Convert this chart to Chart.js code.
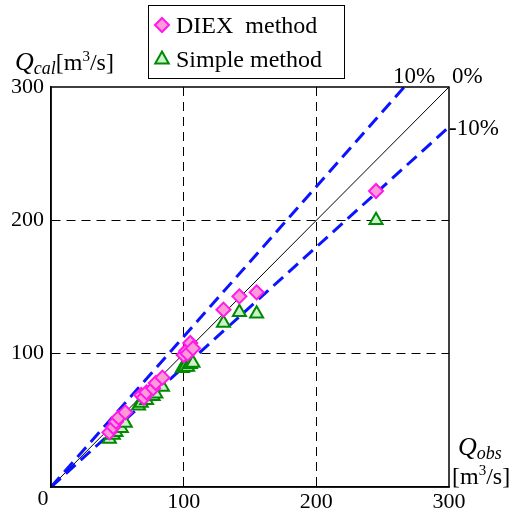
<!DOCTYPE html>
<html>
<head>
<meta charset="utf-8">
<script src="https://cdn.jsdelivr.net/npm/chart.js@4.4.1/dist/chart.umd.min.js"></script>
<style>
  html, body { margin: 0; padding: 0; background: #fff; }
  #wrap { width: 513px; height: 510px; }
</style>
</head>
<body>
<div id="wrap"><canvas id="chart" width="513" height="510"></canvas></div>
<script>
const diexObs = [44, 47, 49, 51, 56, 68, 70, 72, 77, 79, 84, 100, 102, 103, 105, 107, 130, 142, 155, 245];
const diexCal = [41, 45, 49, 52, 56, 69, 67, 71, 74, 78, 82, 99, 102, 100, 108, 104, 133, 143, 146, 222];
const simpleObs = [44, 47, 49, 53, 56, 66, 68, 72, 77, 79, 84, 99, 101, 103, 105, 107, 130, 142, 155, 245];
const simpleCal = [36, 39, 41, 44, 48, 61, 63, 65, 68, 70, 75, 89, 90, 90, 92, 93, 123, 131, 130, 200];

// reference lines (0%, +10%, -10%)
const refX = [0, 300];
const ref0Y = [0, 300];
const refPlusY = [0, 338];
const refMinusY = [0, 270];

const axisTicks = [0, 100, 200, 300];
const legendLabels = ["DIEX  method", "Simple method"];

const serif = "'Liberation Serif', 'Times New Roman', serif";

const toPoints = (xs, ys) => xs.map((x, i) => ({ x, y: ys[i] }));

function drawRich(ctx, parts, x, y) {
  parts.forEach((p) => {
    ctx.font = `${p.italic ? "italic " : ""}${p.size}px ${serif}`;
    ctx.fillText(p.text, x, y + (p.dy || 0));
    x += ctx.measureText(p.text).width;
  });
}

const annotations = {
  id: "annotations",
  afterDraw(chart) {
    const { ctx, chartArea: a } = chart;
    ctx.save();
    ctx.fillStyle = "#000";
    ctx.textBaseline = "alphabetic";

    // plot frame
    ctx.strokeStyle = "#000";
    ctx.lineWidth = 1.5;
    ctx.strokeRect(a.left, a.top, a.right - a.left, a.bottom - a.top);

    // axis titles
    drawRich(ctx, [
      { text: "Q", size: 26, italic: true },
      { text: "cal", size: 18, italic: true, dy: 4 },
      { text: "[m", size: 24 },
      { text: "3", size: 15, dy: -9 },
      { text: "/s]", size: 24 },
    ], 15, 70);
    drawRich(ctx, [
      { text: "Q", size: 26, italic: true },
      { text: "obs", size: 18, italic: true, dy: 4 },
    ], 458, 455);
    drawRich(ctx, [
      { text: "[m", size: 24 },
      { text: "3", size: 15, dy: -9 },
      { text: "/s]", size: 24 },
    ], 452, 484);

    // origin label
    ctx.font = `22px ${serif}`;
    ctx.textAlign = "center";
    ctx.fillText("0", 43, 505);

    // percent labels
    ctx.font = `23px ${serif}`;
    ctx.textAlign = "left";
    ctx.fillText("10%", 393, 83);
    ctx.fillText("0%", 452, 83);
    ctx.fillText("-10%", 449, 135);

    // legend box
    ctx.lineWidth = 1;
    ctx.strokeRect(148.5, 5.5, 196, 73);
    const rows = [25, 59];
    [0, 1].forEach((i) => {
      const ds = chart.data.datasets[i];
      const r = ds.pointRadius;
      ctx.fillStyle = ds.backgroundColor;
      ctx.strokeStyle = ds.borderColor;
      ctx.lineWidth = ds.borderWidth;
      ctx.beginPath();
      if (ds.pointStyle === "rectRot") {
        ctx.moveTo(162, rows[i] - r);
        ctx.lineTo(162 + r, rows[i]);
        ctx.lineTo(162, rows[i] + r);
        ctx.lineTo(162 - r, rows[i]);
      } else {
        ctx.moveTo(162, rows[i] - r);
        ctx.lineTo(162 + r * 0.9, rows[i] + r * 0.6);
        ctx.lineTo(162 - r * 0.9, rows[i] + r * 0.6);
      }
      ctx.closePath();
      ctx.fill();
      ctx.stroke();
      ctx.fillStyle = "#000";
      ctx.font = `24px ${serif}`;
      ctx.fillText(legendLabels[i], 176, rows[i] + 8);
    });
    ctx.restore();
  },
};

const gridOpts = {
  color: (c) => (c.tick.value === 100 || c.tick.value === 200 ? "#000" : "rgba(0,0,0,0)"),
  lineWidth: 1,
  drawTicks: false,
};

new Chart(document.getElementById("chart"), {
  type: "scatter",
  data: {
    datasets: [
      {
        label: legendLabels[0],
        data: toPoints(diexObs, diexCal),
        pointStyle: "rectRot",
        pointRadius: 7,
        backgroundColor: "#ff9ad8",
        borderColor: "#ff18e8",
        borderWidth: 2,
        order: 1,
      },
      {
        label: legendLabels[1],
        data: toPoints(simpleObs, simpleCal),
        pointStyle: "triangle",
        pointRadius: 7.5,
        backgroundColor: "#ccf2cc",
        borderColor: "#008a00",
        borderWidth: 2,
        order: 2,
      },
      {
        type: "line",
        data: toPoints(refX, ref0Y),
        borderColor: "#000",
        borderWidth: 1,
        pointRadius: 0,
        order: 5,
      },
      {
        type: "line",
        data: toPoints(refX, refPlusY),
        borderColor: "#0a14ff",
        borderWidth: 3,
        borderDash: [13, 7],
        pointRadius: 0,
        order: 4,
      },
      {
        type: "line",
        data: toPoints(refX, refMinusY),
        borderColor: "#0a14ff",
        borderWidth: 3,
        borderDash: [13, 7],
        pointRadius: 0,
        order: 4,
      },
    ],
  },
  options: {
    responsive: false,
    animation: false,
    layout: { padding: { left: 0, top: 87, right: 64, bottom: 0 } },
    plugins: {
      legend: { display: false },
      tooltip: { enabled: false },
    },
    scales: {
      x: {
        type: "linear",
        min: 0,
        max: 300,
        afterBuildTicks: (s) => { s.ticks = axisTicks.map((v) => ({ value: v })); },
        afterFit: (s) => { s.height = 23; },
        grid: gridOpts,
        border: { color: "#000", width: 1.5, dash: [9, 6] },
        ticks: {
          color: "#000",
          padding: 2,
          maxRotation: 0,
          font: { family: serif, size: 22 },
          callback: (v) => (v === 0 ? "" : v),
        },
      },
      y: {
        type: "linear",
        min: 0,
        max: 300,
        afterBuildTicks: (s) => { s.ticks = axisTicks.map((v) => ({ value: v })); },
        afterFit: (s) => { s.width = 51; },
        grid: gridOpts,
        border: { color: "#000", width: 1.5, dash: [9, 6] },
        ticks: {
          color: "#000",
          padding: 7,
          font: { family: serif, size: 22 },
          callback: (v) => (v === 0 ? "" : v),
        },
      },
    },
  },
  plugins: [annotations],
});
</script>
</body>
</html>
